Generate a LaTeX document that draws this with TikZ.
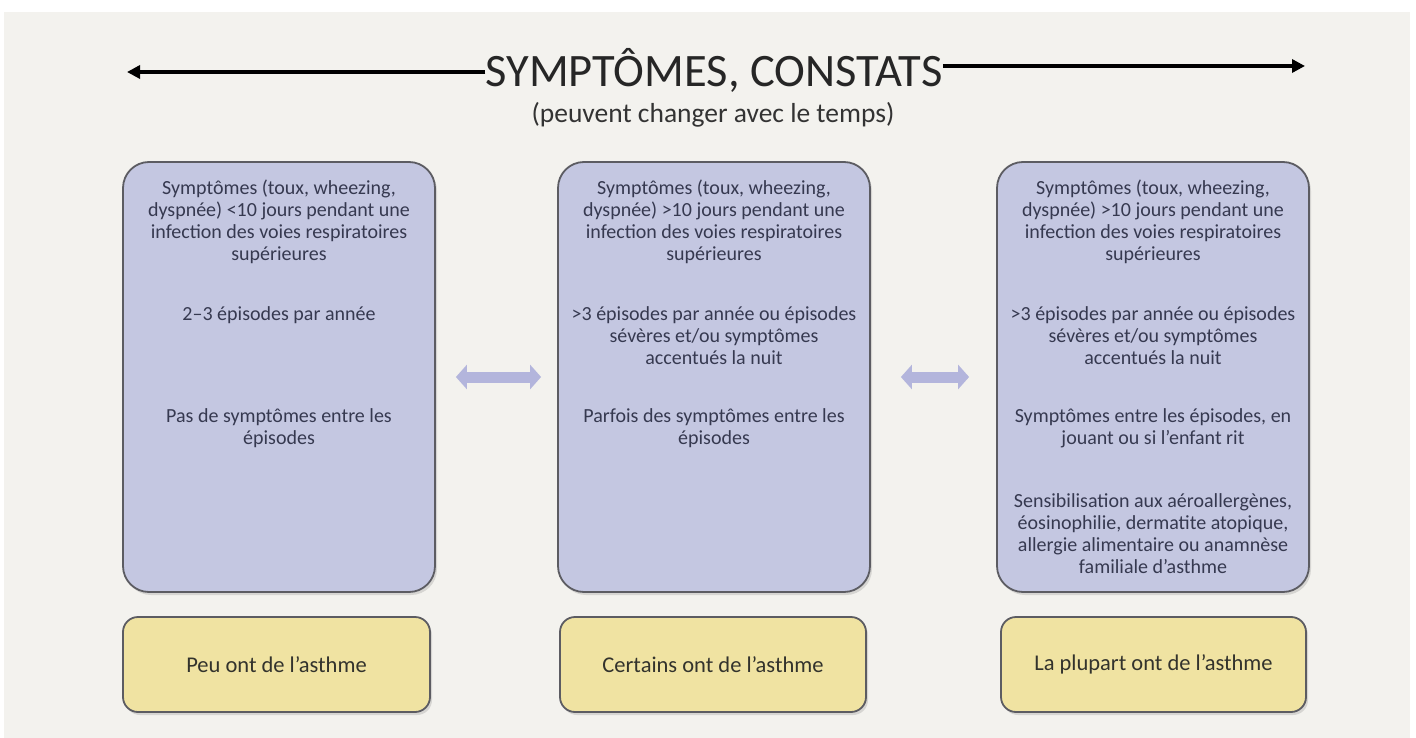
\documentclass[tikz,border=0pt]{standalone}
\usepackage{fontspec}
\setmainfont{Carlito}
\usetikzlibrary{arrows.meta,shadows}
\definecolor{bgc}{HTML}{F3F2EE}
\definecolor{bluefill}{HTML}{C4C7E1}
\definecolor{boxline}{HTML}{5C5C62}
\definecolor{yelfill}{HTML}{F0E3A2}
\definecolor{txtblue}{HTML}{363950}
\definecolor{txtdark}{HTML}{33332D}
\definecolor{dblarrow}{HTML}{B3B5DC}
\tikzset{
  bluebox/.style={draw=boxline, line width=1.8pt, fill=bluefill, rounded corners=26pt,
    minimum width=312pt, minimum height=430pt, inner sep=0pt,
    drop shadow={shadow xshift=2pt, shadow yshift=-3pt, opacity=0.25}},
  yelbox/.style={draw=boxline, line width=1.8pt, fill=yelfill, rounded corners=15pt,
    minimum height=95pt, inner sep=0pt, text=txtdark,
    font=\fontsize{22.5}{26}\selectfont,
    drop shadow={shadow xshift=2pt, shadow yshift=-3pt, opacity=0.25}},
  para/.style={anchor=north, inner sep=0pt, align=center, text=txtblue,
    font=\fontsize{20}{22}\selectfont},
  blackarrow/.style={line width=3.5pt, -{Triangle[length=13pt,width=13pt]}},
  dbl/.style={draw=dblarrow, line width=11pt, {Triangle[length=11pt,width=24pt]}-{Triangle[length=11pt,width=24pt]}},
}
\begin{document}
\begin{tikzpicture}[x=1pt,y=-1pt]
\useasboundingbox (0,0) rectangle (1416,738);
\fill[bgc] (4,12) rectangle (1410,738);

% title
\node[inner sep=0pt, font=\fontsize{46.5}{50}\selectfont, text=black!85] (title) at (714,70) {SYMPTÔMES, CONSTATS};
\node[inner sep=0pt, font=\fontsize{27.5}{30}\selectfont, text=black!80] (sub) at (713,115) {(peuvent changer avec le temps)};
\coordinate (L) at (127,72);
\coordinate (R) at (1305,66);
\draw[blackarrow] (title.west |- L) -- (L);
\draw[blackarrow] (title.east |- R) -- (R);

% blue boxes
\node[bluebox] (b1) at (279,377) {};
\node[bluebox] (b2) at (714,377) {};
\node[bluebox] (b3) at (1153,377) {};

% box 1 text
\node[para] (t11) at (279,180) {Symptômes (toux, wheezing,\\dyspnée) <10 jours pendant une\\infection des voies respiratoires\\supérieures};
\node[para] (t12) at (279,306) {2–3 épisodes par année};
\node[para] (t13) at (279,408) {Pas de symptômes entre les\\épisodes};

% box 2 text
\node[para] (t21) at (714,180) {Symptômes (toux, wheezing,\\dyspnée) >10 jours pendant une\\infection des voies respiratoires\\supérieures};
\node[para] (t22) at (714,306) {>3 épisodes par année ou épisodes\\sévères et/ou symptômes\\accentués la nuit};
\node[para] (t23) at (714,408) {Parfois des symptômes entre les\\épisodes};

% box 3 text
\node[para] (t31) at (1153,180) {Symptômes (toux, wheezing,\\dyspnée) >10 jours pendant une\\infection des voies respiratoires\\supérieures};
\node[para] (t32) at (1153,306) {>3 épisodes par année ou épisodes\\sévères et/ou symptômes\\accentués la nuit};
\node[para] (t33) at (1153,408) {Symptômes entre les épisodes, en\\jouant ou si l’enfant rit};
\node[para] (t34) at (1153,493) {Sensibilisation aux aéroallergènes,\\éosinophilie, dermatite atopique,\\allergie alimentaire ou anamnèse\\familiale d’asthme};

% double arrows
\draw[dbl, shorten <=20pt, shorten >=16pt] (b1.east) -- (b2.west);
\draw[dbl, shorten <=30pt, shorten >=27pt] (b2.east) -- (b3.west);

% yellow boxes
\node[yelbox, minimum width=307pt] (y1) at (276.5,664.5) {Peu ont de l’asthme};
\node[yelbox, minimum width=306pt] (y2) at (713,664.5) {Certains ont de l’asthme};
\node[yelbox, minimum width=305pt] (y3) at (1153.5,664.5) {La plupart ont de l’asthme};
\end{tikzpicture}
\end{document}
